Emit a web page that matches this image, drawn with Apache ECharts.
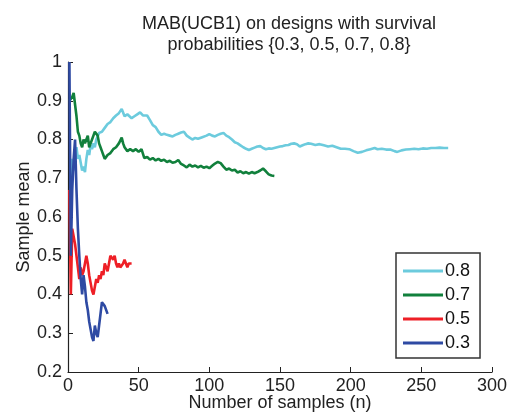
<!DOCTYPE html>
<html>
<head>
<meta charset="utf-8">
<script src="https://cdn.jsdelivr.net/npm/echarts@6/dist/echarts.min.js"></script>
<style>
html, body { margin: 0; padding: 0; background: #fff; }
#chart { width: 508px; height: 415px; }
</style>
</head>
<body>
<div id="chart"></div>
<script>
// sample mean per number of samples, one list per design
var legendNames = ['0.8', '0.7', '0.5', '0.3'];
var xTicks = [0, 50, 100, 150, 200, 250, 300];
var yTicks = [0.2, 0.3, 0.4, 0.5, 0.6, 0.7, 0.8, 0.9, 1];

var mean08 = [[2,0.67],[3,0.75],[4,0.72],[5,0.76],[6,0.78],[7,0.75],[8,0.76],[9,0.74],[10,0.72],[11,0.73],[12,0.716],[13,0.75],[14,0.773],[15,0.76],[16,0.786],[17,0.775],[18,0.79],[19,0.78],[20,0.80],[22,0.817],[24,0.82],[26,0.83],[28,0.84],[30,0.845],[32,0.855],[34,0.862],[36,0.868],[38,0.879],[39,0.876],[40,0.86],[41,0.855],[42,0.865],[43,0.862],[45,0.855],[47,0.86],[49,0.865],[51,0.87],[52,0.872],[53,0.862],[54,0.858],[56,0.862],[58,0.85],[60,0.837],[62,0.832],[64,0.82],[66,0.812],[68,0.815],[70,0.812],[72,0.81],[74,0.808],[76,0.812],[78,0.815],[80,0.818],[82,0.82],[84,0.81],[86,0.805],[88,0.80],[90,0.804],[92,0.802],[95,0.806],[98,0.81],[100,0.814],[102,0.81],[104,0.808],[106,0.812],[108,0.815],[110,0.817],[112,0.81],[114,0.806],[116,0.8],[118,0.793],[120,0.79],[122,0.785],[124,0.78],[126,0.776],[128,0.773],[130,0.776],[132,0.779],[134,0.782],[136,0.783],[138,0.778],[140,0.775],[142,0.777],[144,0.776],[146,0.778],[148,0.78],[150,0.782],[152,0.783],[154,0.785],[156,0.786],[158,0.789],[160,0.79],[162,0.788],[164,0.782],[166,0.785],[168,0.788],[170,0.79],[172,0.789],[175,0.786],[178,0.788],[181,0.785],[184,0.782],[187,0.784],[190,0.78],[193,0.776],[196,0.776],[199,0.775],[202,0.77],[205,0.766],[208,0.768],[211,0.772],[214,0.775],[217,0.778],[219,0.775],[222,0.776],[225,0.774],[228,0.774],[231,0.77],[233,0.768],[236,0.772],[239,0.774],[242,0.775],[245,0.776],[248,0.775],[251,0.777],[254,0.776],[257,0.778],[260,0.778],[263,0.779],[266,0.778],[269,0.778]];

var mean07 = [[1,0.9],[2,0.9],[3,0.91],[4,0.92],[5,0.923],[6,0.86],[7,0.82],[8,0.81],[9,0.79],[10,0.78],[11,0.80],[12,0.79],[13,0.80],[14,0.81],[15,0.78],[16,0.79],[17,0.80],[18,0.81],[19,0.82],[20,0.825],[21,0.81],[22,0.79],[23,0.78],[24,0.77],[25,0.76],[26,0.75],[27,0.75],[28,0.76],[30,0.765],[32,0.775],[34,0.78],[36,0.79],[38,0.805],[39,0.79],[40,0.78],[41,0.785],[42,0.77],[44,0.775],[46,0.77],[48,0.775],[50,0.768],[52,0.775],[54,0.752],[56,0.755],[58,0.748],[60,0.752],[62,0.746],[64,0.75],[66,0.745],[68,0.748],[70,0.742],[72,0.745],[74,0.74],[76,0.742],[78,0.747],[80,0.737],[82,0.733],[84,0.728],[86,0.735],[88,0.73],[90,0.733],[92,0.728],[94,0.732],[96,0.727],[98,0.73],[100,0.726],[102,0.732],[104,0.738],[106,0.742],[108,0.739],[110,0.73],[112,0.722],[114,0.725],[116,0.72],[118,0.722],[120,0.715],[122,0.718],[124,0.713],[126,0.716],[128,0.712],[130,0.716],[132,0.713],[134,0.716],[136,0.72],[138,0.725],[140,0.718],[142,0.71],[144,0.707],[146,0.706]];

var mean05 = [[1,0.67],[2,0.40],[3,0.57],[4,0.57],[5,0.53],[6,0.50],[7,0.47],[8,0.44],[9,0.47],[10,0.45],[11,0.46],[12,0.48],[13,0.50],[14,0.48],[15,0.45],[16,0.43],[17,0.41],[18,0.40],[19,0.42],[20,0.44],[21,0.43],[22,0.45],[23,0.44],[24,0.46],[25,0.45],[26,0.48],[27,0.47],[28,0.46],[29,0.48],[30,0.50],[31,0.50],[32,0.49],[33,0.50],[34,0.48],[35,0.47],[36,0.48],[37,0.47],[38,0.47],[39,0.48],[40,0.49],[41,0.48],[42,0.47],[43,0.48],[44,0.475],[45,0.48]];

var mean03 = [[1,1.0],[2,0.5],[3,0.67],[4,0.75],[5,0.8],[6,0.67],[7,0.57],[8,0.5],[9,0.44],[10,0.4],[11,0.45],[12,0.42],[13,0.38],[14,0.36],[15,0.33],[16,0.31],[17,0.29],[18,0.28],[19,0.32],[20,0.30],[21,0.29],[22,0.32],[23,0.35],[24,0.38],[25,0.385],[26,0.37],[27,0.37],[28,0.35]];

var colors = ['#6ccbdd', '#11803c', '#ee1f26', '#2e4aa3'];
var font = 'Liberation Sans, Arial, sans-serif';

var myChart = echarts.init(document.getElementById('chart'), null, {renderer: 'canvas'});

function makeSeries(name, data, color) {
    return {
        name: name,
        type: 'line',
        data: data,
        symbol: 'none',
        showSymbol: false,
        lineStyle: {width: 2.6, color: color},
        itemStyle: {color: color},
        animation: false
    };
}

option = {
    backgroundColor: '#fff',
    title: {
        text: 'MAB(UCB1) on designs with survival\nprobabilities {0.3, 0.5, 0.7, 0.8}',
        left: 284,
        textAlign: 'center',
        top: 9,
        textStyle: {fontFamily: font, fontSize: 18, fontWeight: 'normal', color: '#222', lineHeight: 21}
    },
    legend: {
        data: legendNames,
        orient: 'vertical',
        left: 396,
        top: 253,
        icon: 'rect',
        itemWidth: 40,
        itemHeight: 3,
        itemGap: 6,
        padding: [9, 10, 6, 7],
        borderColor: '#333',
        borderWidth: 1.5,
        textStyle: {fontFamily: font, fontSize: 18, color: '#111', padding: [0, 0, 0, -3], lineHeight: 17}
    },
    grid: {left: 68, right: 16, top: 62, bottom: 43, outerBoundsMode: 'none'},
    xAxis: {
        type: 'value',
        min: 0,
        max: 300,
        interval: 50,
        name: 'Number of samples (n)',
        nameLocation: 'middle',
        nameGap: 22,
        nameMoveOverlap: false,
        nameTextStyle: {fontFamily: font, fontSize: 18, color: '#222'},
        axisLine: {lineStyle: {color: '#222', width: 1.2}},
        axisTick: {inside: true, length: 5, lineStyle: {color: '#222'}},
        axisLabel: {fontFamily: font, fontSize: 18, color: '#222', margin: 5,
            formatter: function (v) { return xTicks.indexOf(v) >= 0 ? String(v) : ''; }},
        splitLine: {show: false}
    },
    yAxis: {
        type: 'value',
        min: 0.2,
        max: 1,
        interval: 0.1,
        name: 'Sample mean',
        nameLocation: 'middle',
        nameGap: 35,
        nameMoveOverlap: false,
        nameTextStyle: {fontFamily: font, fontSize: 18, color: '#222'},
        axisLine: {show: true, lineStyle: {color: '#222', width: 1.2}},
        axisTick: {show: true, inside: true, length: 5, lineStyle: {color: '#222'}},
        axisLabel: {fontFamily: font, fontSize: 18, color: '#222', margin: 6,
            formatter: function (v) {
                var r = Math.round(v * 10) / 10;
                return yTicks.indexOf(r) >= 0 ? String(r) : '';
            }},
        splitLine: {show: false}
    },
    series: [
        makeSeries('0.8', mean08, colors[0]),
        makeSeries('0.7', mean07, colors[1]),
        makeSeries('0.5', mean05, colors[2]),
        makeSeries('0.3', mean03, colors[3])
    ]
};

myChart.setOption(option);
</script>
</body>
</html>
